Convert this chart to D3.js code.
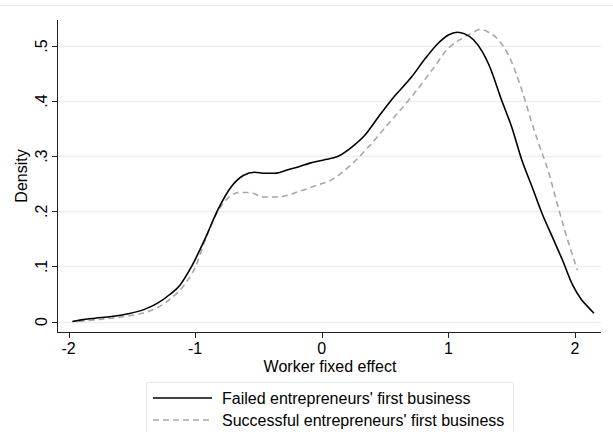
<!DOCTYPE html>
<meta charset="utf-8">
<body style="margin:0;background:#fff">
<script src="https://cdn.jsdelivr.net/npm/d3@7"></script>
<script>

    var width = 613,
        height = 432;

    // failed entrepreneurs' first business
    var failedX = [-1.97,-1.9,-1.79,-1.66,-1.53,-1.4,-1.3,-1.2,-1.12,-1.03,-0.92,-0.82,-0.71,-0.62,-0.53,-0.45,-0.37,-0.26,-0.18,-0.1,0.03,0.13,0.24,0.34,0.45,0.55,0.71,0.82,0.92,1.0,1.07,1.13,1.2,1.27,1.32,1.42,1.5,1.58,1.66,1.74,1.82,1.9,1.98,2.05,2.1,2.15];
    var failedY = [0.0,0.003,0.006,0.009,0.014,0.022,0.033,0.049,0.066,0.099,0.151,0.203,0.246,0.265,0.271,0.269,0.269,0.276,0.281,0.287,0.294,0.300,0.317,0.338,0.372,0.402,0.444,0.478,0.505,0.52,0.525,0.522,0.511,0.489,0.466,0.402,0.353,0.293,0.245,0.196,0.154,0.112,0.067,0.04,0.027,0.015];

    // successful entrepreneurs' first business
    var successX = [-1.92,-1.8,-1.66,-1.53,-1.4,-1.3,-1.19,-1.08,-1.0,-0.92,-0.82,-0.73,-0.66,-0.57,-0.46,-0.34,-0.18,-0.03,0.07,0.21,0.37,0.53,0.71,0.87,1.0,1.11,1.19,1.25,1.31,1.37,1.48,1.58,1.66,1.71,1.79,1.87,1.95,2.02];
    var successY = [0.0,0.003,0.006,0.01,0.016,0.025,0.042,0.068,0.098,0.148,0.2,0.226,0.234,0.234,0.226,0.226,0.236,0.248,0.256,0.28,0.317,0.36,0.408,0.456,0.496,0.514,0.524,0.53,0.526,0.517,0.481,0.42,0.36,0.325,0.272,0.205,0.142,0.093];

    var xTicks = [-2, -1, 0, 1, 2],
        yTicks = [0, 0.1, 0.2, 0.3, 0.4, 0.5],
        yTickLabels = ["0", ".1", ".2", ".3", ".4", ".5"],
        legendLabels = ["Failed entrepreneurs' first business", "Successful entrepreneurs' first business"];

    var x = d3.scaleLinear().domain([-2, 2]).range([68.5, 575]);
    var y = d3.scaleLinear().domain([0, 0.5]).range([321.5, 46]);

    var svg = d3.select("body").append("svg")
        .attr("width", width)
        .attr("height", height)
        .style("font-family", "'Liberation Sans', Arial, sans-serif");

    var gridColor = "#e8f0f1";

    // faint top line
    svg.append("line")
        .attr("x1", 0).attr("x2", width)
        .attr("y1", 5.5).attr("y2", 5.5)
        .attr("stroke", gridColor);

    // gridlines
    svg.selectAll(".grid")
        .data(yTicks)
        .enter().append("line")
        .attr("x1", 57).attr("x2", 601)
        .attr("y1", function(d) { return Math.round(y(d)) + 0.5; })
        .attr("y2", function(d) { return Math.round(y(d)) + 0.5; })
        .attr("stroke", gridColor)
        .attr("stroke-width", 1.5);

    // y axis
    svg.append("line")
        .attr("x1", 57.5).attr("x2", 57.5)
        .attr("y1", 20).attr("y2", 332.5)
        .attr("stroke", "#222");

    svg.selectAll(".ytick")
        .data(yTicks)
        .enter().append("line")
        .attr("x1", 52).attr("x2", 57)
        .attr("y1", function(d) { return Math.round(y(d)) + 0.5; })
        .attr("y2", function(d) { return Math.round(y(d)) + 0.5; })
        .attr("stroke", "#222");

    svg.selectAll(".ylab")
        .data(yTicks)
        .enter().append("text")
        .attr("transform", function(d) { return "translate(47," + y(d) + ") rotate(-90)"; })
        .attr("text-anchor", "middle")
        .style("font-size", "16px")
        .text(function(d, i) { return yTickLabels[i]; });

    svg.append("text")
        .attr("transform", "translate(27,176) rotate(-90)")
        .attr("text-anchor", "middle")
        .style("font-size", "16px")
        .text("Density");

    // x axis
    svg.append("line")
        .attr("x1", 57).attr("x2", 601)
        .attr("y1", 332.5).attr("y2", 332.5)
        .attr("stroke", "#222");

    svg.selectAll(".xtick")
        .data(xTicks)
        .enter().append("line")
        .attr("x1", function(d) { return Math.round(x(d)) + 0.5; })
        .attr("x2", function(d) { return Math.round(x(d)) + 0.5; })
        .attr("y1", 333).attr("y2", 338)
        .attr("stroke", "#222");

    svg.selectAll(".xlab")
        .data(xTicks)
        .enter().append("text")
        .attr("x", function(d) { return x(d); })
        .attr("y", 353.5)
        .attr("text-anchor", "middle")
        .style("font-size", "16px")
        .text(function(d) { return d; });

    svg.append("text")
        .attr("x", 330)
        .attr("y", 372)
        .attr("text-anchor", "middle")
        .style("font-size", "16px")
        .text("Worker fixed effect");

    var line = d3.line()
        .x(function(d) { return x(d[0]); })
        .y(function(d) { return y(d[1]); })
        .curve(d3.curveMonotoneX);

    svg.append("path")
        .datum(d3.zip(successX, successY))
        .attr("d", line)
        .attr("fill", "none")
        .attr("stroke", "#a8a8a8")
        .attr("stroke-width", 1.6)
        .attr("stroke-dasharray", "6,4");

    svg.append("path")
        .datum(d3.zip(failedX, failedY))
        .attr("d", line)
        .attr("fill", "none")
        .attr("stroke", "#000")
        .attr("stroke-width", 1.6);

    // legend
    svg.append("rect")
        .attr("x", 146.5).attr("y", 382.5)
        .attr("width", 367).attr("height", 60)
        .attr("fill", "#fff")
        .attr("stroke", "#e4ecee");

    var leg = svg.selectAll(".leg")
        .data(legendLabels)
        .enter().append("g")
        .attr("transform", function(d, i) { return "translate(0," + (398 + i * 22) + ")"; });

    leg.append("line")
        .attr("x1", 153).attr("x2", 212)
        .attr("stroke", function(d, i) { return i ? "#a8a8a8" : "#000"; })
        .attr("stroke-width", 1.6)
        .attr("stroke-dasharray", function(d, i) { return i ? "6,4" : null; });

    leg.append("text")
        .attr("x", 222)
        .attr("y", 6)
        .style("font-size", "16px")
        .text(function(d) { return d; });

</script>
</body>
